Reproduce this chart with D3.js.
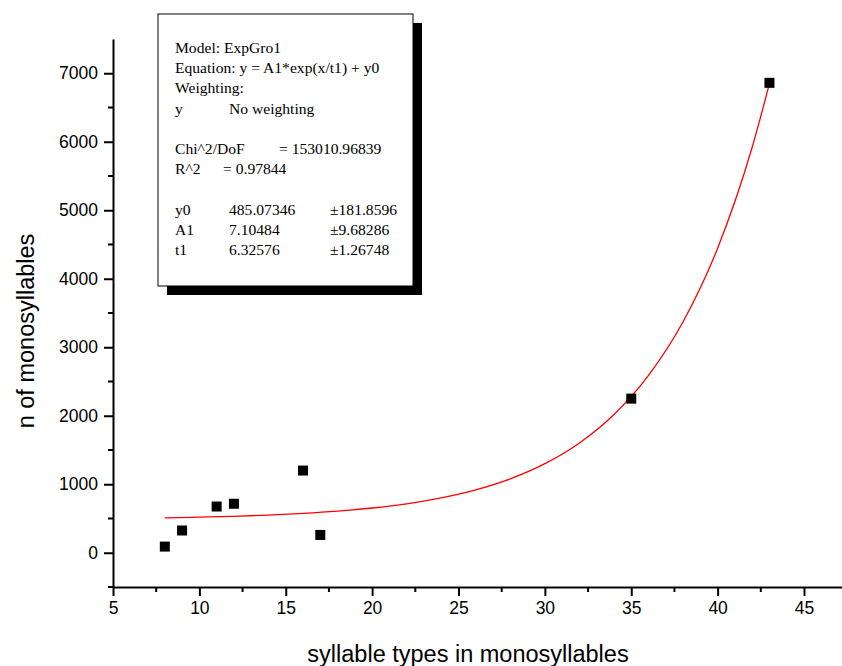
<!DOCTYPE html>
<html>
<head>
<meta charset="utf-8">
<script src="https://cdn.jsdelivr.net/npm/d3@7"></script>
<style>
  body { margin: 0; background: #fff; }
  svg { display: block; }
  .tick text { font-family: "Liberation Sans", Arial, sans-serif; font-size: 17.5px; fill: #000; }
  .axis-title { font-family: "Liberation Sans", Arial, sans-serif; font-size: 23.5px; fill: #000; }
  .note { font-family: "Liberation Serif", "Times New Roman", serif; font-size: 15.6px; fill: #000; }
</style>
</head>
<body>
<script>
  // data points
  var xValues = [8, 9, 11, 12, 16, 17, 35, 43];
  var yValues = [90, 325, 675, 715, 1200, 260, 2250, 6860];

  // fitted curve
  var fitX = [8, 10, 12, 14, 16, 18, 20, 22, 24, 26, 28, 30, 32, 34, 36, 38, 40, 42, 43];
  var fitY = [510, 520, 532, 550, 574, 607, 653, 715, 801, 918, 1079, 1300, 1603, 2019, 2590, 3372, 4446, 5919, 6848];

  var xTicks = [5, 10, 15, 20, 25, 30, 35, 40, 45];
  var yTicks = [0, 1000, 2000, 3000, 4000, 5000, 6000, 7000];

  var noteLines = [
    ['Model: ExpGro1', '', ''],
    ['Equation: y = A1*exp(x/t1) + y0', '', ''],
    ['Weighting:', '', ''],
    ['y', 'No weighting', ''],
    ['', '', ''],
    ['Chi^2/DoF', '', '= 153010.96839'],
    ['R^2', '=  0.97844', ''],
    ['', '', ''],
    ['y0', '485.07346', '\u00b1181.8596'],
    ['A1', '7.10484', '\u00b19.68286'],
    ['t1', '6.32576', '\u00b11.26748']
  ];

  var w = 842;
  var h = 666;

  var svg = d3.select('body').append('svg')
    .attr('width', w)
    .attr('height', h);

  var x = d3.scaleLinear().domain([5, 47.2]).range([113, 842]);
  var y = d3.scaleLinear().domain([-500, 7500]).range([587, 39]);

  // minor ticks
  var xMinor = d3.range(7.5, 47.2, 5);
  var yMinor = d3.range(-500, 7500, 1000);

  svg.append('g').selectAll('line')
    .data(xMinor).enter()
    .append('line')
    .attr('x1', function (d) { return x(d); })
    .attr('x2', function (d) { return x(d); })
    .attr('y1', 587)
    .attr('y2', 592)
    .attr('stroke', '#000')
    .attr('stroke-width', 2);

  svg.append('g').selectAll('line')
    .data(yMinor).enter()
    .append('line')
    .attr('y1', function (d) { return y(d); })
    .attr('y2', function (d) { return y(d); })
    .attr('x1', 113)
    .attr('x2', 108)
    .attr('stroke', '#000')
    .attr('stroke-width', 2);

  var xAxis = svg.append('g')
    .attr('transform', 'translate(0,587)')
    .call(d3.axisBottom(x).tickValues(xTicks).tickFormat(d3.format('d'))
      .tickSize(9).tickSizeOuter(0).tickPadding(6));

  var yAxis = svg.append('g')
    .attr('transform', 'translate(113,0)')
    .call(d3.axisLeft(y).tickValues(yTicks).tickFormat(d3.format('d'))
      .tickSize(9).tickSizeOuter(0).tickPadding(6));

  [xAxis, yAxis].forEach(function (a) {
    a.select('.domain').attr('stroke', '#000').attr('stroke-width', 2);
    a.selectAll('.tick line').attr('stroke', '#000').attr('stroke-width', 2);
  });

  svg.append('text')
    .attr('class', 'axis-title')
    .attr('x', 468)
    .attr('y', 662)
    .attr('text-anchor', 'middle')
    .text('syllable types in monosyllables');

  svg.append('text')
    .attr('class', 'axis-title')
    .attr('transform', 'translate(34,331) rotate(-90)')
    .attr('text-anchor', 'middle')
    .text('n of monosyllables');

  // fit curve
  var line = d3.line()
    .x(function (d, i) { return x(fitX[i]); })
    .y(function (d) { return y(d); })
    .curve(d3.curveMonotoneX);

  svg.append('path')
    .datum(fitY)
    .attr('d', line)
    .attr('fill', 'none')
    .attr('stroke', '#ff0000')
    .attr('stroke-width', 1.3);

  // markers
  var s = 10;
  svg.append('g').selectAll('rect')
    .data(xValues).enter()
    .append('rect')
    .attr('x', function (d) { return x(d) - s / 2; })
    .attr('y', function (d, i) { return y(yValues[i]) - s / 2; })
    .attr('width', s)
    .attr('height', s)
    .attr('fill', '#000');

  // parameter box with shadow
  var bx = 158, by = 14, bw = 255, bh = 272;
  svg.append('rect')
    .attr('x', bx + 9).attr('y', by + 9)
    .attr('width', bw).attr('height', bh)
    .attr('fill', '#000');
  svg.append('rect')
    .attr('x', bx).attr('y', by)
    .attr('width', bw).attr('height', bh)
    .attr('fill', '#fff')
    .attr('stroke', '#000')
    .attr('stroke-width', 1);

  var rows = svg.append('g').selectAll('g')
    .data(noteLines).enter()
    .append('g')
    .attr('transform', function (d, i) { return 'translate(0,' + (53 + i * 20.2) + ')'; });

  rows.append('text').attr('class', 'note').attr('x', 175).text(function (d) { return d[0]; });
  rows.append('text').attr('class', 'note')
    .attr('x', function (d) { return d[0] === 'R^2' ? 223 : 229; })
    .text(function (d) { return d[1]; });
  rows.append('text').attr('class', 'note')
    .attr('x', function (d) { return d[0] === 'Chi^2/DoF' ? 279 : 330; })
    .text(function (d) { return d[2]; });
</script>
</body>
</html>
